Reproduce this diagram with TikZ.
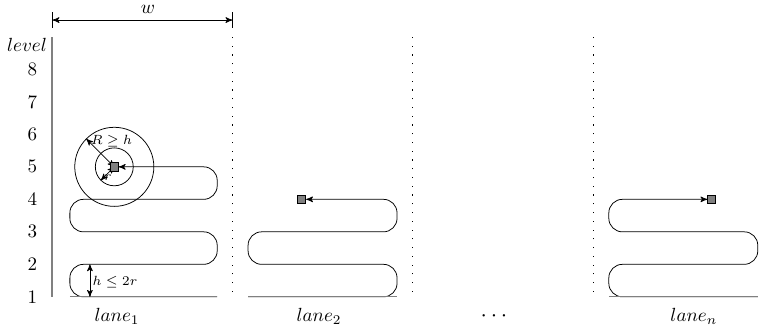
\documentclass[tikz,border=0pt]{standalone}
\usetikzlibrary{arrows,positioning}

\begin{document}
\begin{tikzpicture}[font=\normalsize]
\tikzset{
    %Define standard arrow tip
    >=stealth',
    %Define style for the vehicles
    fahrzeug/.style={
           rectangle,
           draw=black,
           fill=gray,
           inner sep=0pt,
           minimum size=0.15cm},
    % Define style for the lane tracks
    bahn/.style={
           ->,
           rounded corners=0.25cm},
    % Define style for the ground lines
    boden/.style={
           draw=gray,
           semithick},
    % Define style for small labels
    klein/.style={
           font=\scriptsize,
           inner sep=1pt}
}
	\path[use as bounding box] (-0.96,-0.03) rectangle (13.2,6.08);

 %levels
	\draw[gray,thick] (0,0.6) -- (0,5.4);
	\node (lvltxt) at (-0.46,5.25) {$level$};
	\node (lvl8) at (-0.36,4.8) {8};
	\node (lvl7) at (-0.36,4.2) {7};
	\node (lvl6) at (-0.36,3.6) {6};
	\node (lvl5) at (-0.36,3.0) {5};
	\node (lvl4) at (-0.36,2.4) {4};
	\node (lvl3) at (-0.36,1.8) {3};
	\node (lvl2) at (-0.36,1.2) {2};
	\node (lvl1) at (-0.36,0.6) {1};

 %lane borders
	\draw[loosely dotted,semithick] (3.33,0.69) -- (3.33,5.4);
	\draw[loosely dotted,semithick] (6.66,0.69) -- (6.66,5.4);
	\draw[loosely dotted,semithick] (9.99,0.69) -- (9.99,5.4);

 %lane width
	\coordinate (wl) at (0.01,5.71);
	\coordinate (wr) at (3.33,5.71);
	\draw ([yshift=-0.14cm]wl) -- ([yshift=0.14cm]wl);
	\draw ([yshift=-0.14cm]wr) -- ([yshift=0.14cm]wr);
	\draw[<->] (wl) -- node[above,pos=0.53] (wlab) {$w$} (wr);

 %lane 1
	\coordinate (mitte1) at (1.15,3.0);
	\draw (mitte1) circle (0.35cm);
	\draw (mitte1) circle (0.73cm);
	\coordinate[shift={(135:0.73)}] (Rend) at (mitte1);
	\coordinate[shift={(225:0.35)}] (rend) at (mitte1);
	\draw[<->] (mitte1) -- (Rend);
	\draw[<->] (mitte1) -- (rend);
	\node[fahrzeug] (fz1) at (mitte1) {};
	\node[klein] (Rlab) at (1.10,3.48) {$R \geq h$};
	\node[klein] (rlab) at (1.03,2.80) {$r$};

	\coordinate (start1) at (3.05,0.6);
	\draw[bahn] (start1) -- (0.33,0.6) -- (0.33,1.2) -- (3.05,1.2) -- (3.05,1.8) -- (0.33,1.8) -- (0.33,2.4) -- (3.05,2.4) -- (3.05,3.0) -- (fz1.east);
	\draw[boden] (0.33,0.6) -- (3.05,0.6);

	\coordinate (hu) at (0.70,0.6);
	\coordinate (ho) at (0.70,1.2);
	\draw[<->] (hu) -- (ho);
	\node[klein,anchor=west] (hlab) at (0.71,0.88) {$h \leq 2r$};

 %lane 2
	\node[fahrzeug] (fz2) at (4.61,2.4) {};
	\coordinate (start2) at (3.62,0.6);
	\draw[bahn] (start2) -- (6.37,0.6) -- (6.37,1.2) -- (3.62,1.2) -- (3.62,1.8) -- (6.37,1.8) -- (6.37,2.4) -- (fz2.east);
	\draw[boden] (3.62,0.6) -- (6.37,0.6);

 %lane n
	\node[fahrzeug] (fzn) at (12.18,2.4) {};
	\coordinate (startn) at (13.03,0.6);
	\draw[bahn] (startn) -- (10.28,0.6) -- (10.28,1.2) -- (13.03,1.2) -- (13.03,1.8) -- (10.28,1.8) -- (10.28,2.4) -- (fzn.west);
	\draw[boden] (10.28,0.6) -- (13.03,0.6);

 %lane names
	\node[anchor=base] (lane1) at (1.2,0.14) {$lane_1$};
	\node[anchor=base] (lane2) at (4.93,0.14) {$lane_2$};
	\node[anchor=base,font=\large] (dots) at (8.16,0.15) {$\cdots$};
	\node[anchor=base] (lanen) at (11.85,0.14) {$lane_n$};

\end{tikzpicture}
\end{document}
